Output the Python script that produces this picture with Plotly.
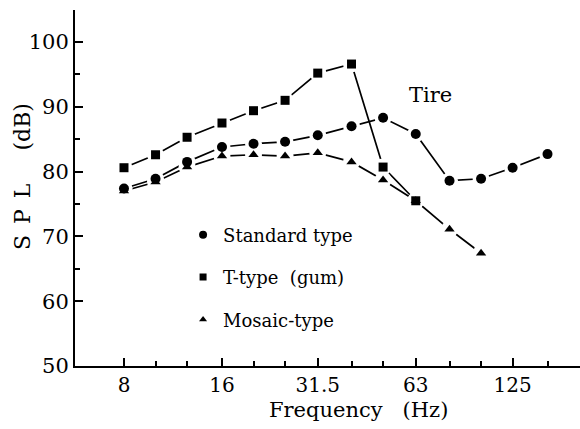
import plotly.graph_objects as go

# 1/3-octave band centre frequencies (Hz)
freq_std = [8, 10, 12.5, 16, 20, 25, 31.5, 40, 50, 63, 80, 100, 125, 160]
spl_std = [77.4, 78.9, 81.5, 83.8, 84.3, 84.6, 85.6, 87.0, 88.3, 85.8, 78.6, 78.9, 80.6, 82.7]

freq_t = [8, 10, 12.5, 16, 20, 25, 31.5, 40, 50, 63]
spl_t = [80.6, 82.6, 85.3, 87.5, 89.4, 91.0, 95.2, 96.6, 80.7, 75.5]

freq_m = [8, 10, 12.5, 16, 20, 25, 31.5, 40, 50, 63, 80, 100]
spl_m = [77.0, 78.4, 80.7, 82.4, 82.6, 82.4, 82.9, 81.5, 78.7, 75.5, 71.1, 67.4]

series_names = ["Standard type", "T-type\u00a0\u00a0(gum)", "Mosaic-type"]
x_tick_vals = [8, 16, 31.5, 63, 125]
x_tick_text = ["8", "16", "31.5", "63", "125"]
x_minor_vals = [10, 12.5, 20, 25, 40, 50, 80, 100, 160]
y_tick_vals = [50, 60, 70, 80, 90, 100]
y_minor_vals = [65, 75, 85, 95]

FONT = "DejaVu Serif"

series = [
    (freq_m, spl_m, "triangle-up", 9, 7, series_names[2]),
    (freq_std, spl_std, "circle", 10, 8, series_names[0]),
    (freq_t, spl_t, "square", 9, 7, series_names[1]),
]

fig = go.Figure()
# lines
for fx, fy, sym, sz, lsz, nm in series:
    fig.add_trace(go.Scatter(x=fx, y=fy, mode="lines",
                             line=dict(color="black", width=1.7),
                             showlegend=False, hoverinfo="skip"))
# white halos giving gaps around markers
for fx, fy, sym, sz, lsz, nm in series:
    fig.add_trace(go.Scatter(x=fx, y=fy, mode="markers",
                             marker=dict(symbol="circle", size=17, color="white"),
                             showlegend=False, hoverinfo="skip"))
# markers
for fx, fy, sym, sz, lsz, nm in series:
    fig.add_trace(go.Scatter(x=fx, y=fy, mode="markers",
                             marker=dict(symbol=sym, size=sz, color="black"),
                             showlegend=False, name=nm))
# legend entries (markers only)
for fx, fy, sym, sz, lsz, nm in [series[1], series[2], series[0]]:
    fig.add_trace(go.Scatter(x=[None], y=[None], mode="markers",
                             marker=dict(symbol=sym, size=lsz, color="black"),
                             name=nm, legendgroup=nm, showlegend=True))

fig.update_layout(
    width=580, height=429,
    margin=dict(l=75, r=0, t=10, b=63),
    paper_bgcolor="white", plot_bgcolor="white",
    font=dict(family=FONT, color="black"),
    showlegend=True,
    legend=dict(x=0.214, y=0.42, xanchor="left", yanchor="top",
                bgcolor="rgba(0,0,0,0)", borderwidth=0,
                font=dict(family=FONT, size=18, color="black"),
                tracegroupgap=16, itemsizing="trace"),
    xaxis=dict(type="log", range=[0.7526, 2.3039],
               showline=True, linecolor="black", linewidth=2,
               showgrid=False, zeroline=False,
               ticks="inside", ticklen=8, tickwidth=2, tickcolor="black",
               tickvals=x_tick_vals, ticktext=x_tick_text,
               tickfont=dict(family=FONT, size=20, color="black"),
               minor=dict(tickvals=x_minor_vals, ticks="inside", ticklen=5,
                          tickwidth=2, tickcolor="black", showgrid=False)),
    yaxis=dict(range=[50, 104.94],
               showline=True, linecolor="black", linewidth=2,
               showgrid=False, zeroline=False,
               ticks="inside", ticklen=8, tickwidth=2, tickcolor="black",
               tickvals=y_tick_vals, ticktext=[str(v) for v in y_tick_vals],
               tickfont=dict(family=FONT, size=21, color="black"),
               minor=dict(tickvals=y_minor_vals, ticks="inside", ticklen=5,
                          tickwidth=2, tickcolor="black", showgrid=False)),
)

fig.add_annotation(text="Tire", xref="paper", yref="paper",
                   x=(430 - 75) / 505, y=(366 - 95) / 356,
                   xanchor="center", yanchor="middle",
                   showarrow=False, font=dict(family=FONT, size=21, color="black"))
fig.add_annotation(text="Frequency\u00a0\u00a0\u00a0(Hz)", xref="paper", yref="paper",
                   x=(358 - 75) / 505, y=(366 - 410) / 356,
                   xanchor="center", yanchor="middle",
                   showarrow=False, font=dict(family=FONT, size=21, color="black"))
fig.add_annotation(text="S\u2002P\u2002L\u2003\u2002(dB)", xref="paper", yref="paper",
                   x=(22 - 75) / 505, y=(366 - 177) / 356, textangle=-90,
                   xanchor="center", yanchor="middle",
                   showarrow=False, font=dict(family=FONT, size=22, color="black"))

fig.write_html("out.html")
